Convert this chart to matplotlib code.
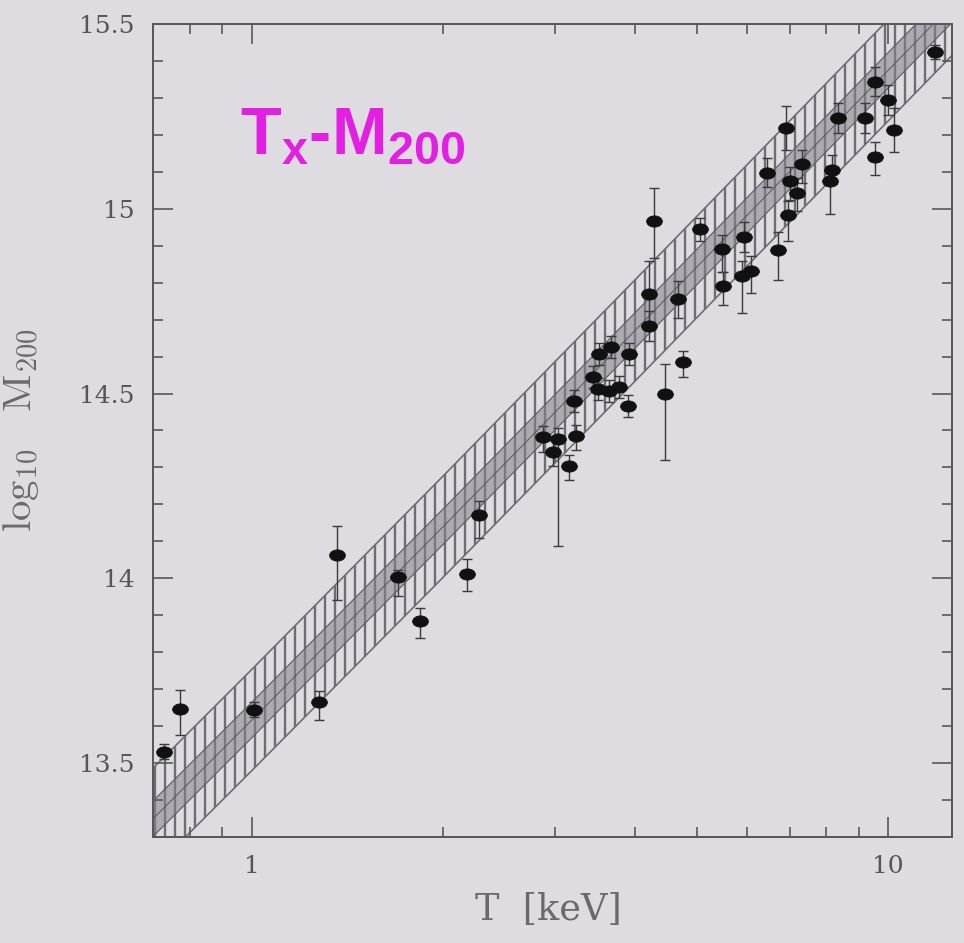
import matplotlib
matplotlib.use('Agg')
import matplotlib.pyplot as plt
import numpy as np
from matplotlib.markers import MarkerStyle
from matplotlib.transforms import Affine2D
from matplotlib.ticker import FixedLocator, LogLocator, MultipleLocator, NullFormatter

# cluster temperatures [keV] and log10 M200, with lower/upper errors in dex
temp_kev = [0.728, 0.771, 1.007, 1.274, 1.364, 1.70, 1.84, 2.18, 2.28,
            2.87, 3.03, 3.23, 2.97, 3.15, 3.21, 3.44, 3.50, 3.64, 3.78,
            3.51, 3.67, 3.91, 3.90, 4.21, 4.21, 4.28, 4.46, 4.67, 4.76,
            5.07, 5.49, 5.51, 5.93, 5.90, 6.10, 6.72, 6.46, 6.90, 7.33,
            7.02, 7.20, 6.97, 8.17, 8.11, 8.35, 9.20, 9.54, 10.0, 10.2,
            9.54, 11.85]
log_m200 = [13.531, 13.647, 13.644, 13.666, 14.062, 14.003, 13.884, 14.011, 14.170,
            14.383, 14.378, 14.386, 14.343, 14.305, 14.480, 14.545, 14.513, 14.507, 14.518,
            14.607, 14.626, 14.607, 14.467, 14.683, 14.769, 14.966, 14.499, 14.755, 14.586,
            14.944, 14.890, 14.790, 14.923, 14.818, 14.831, 14.888, 15.098, 15.219, 15.120,
            15.074, 15.044, 14.982, 15.106, 15.076, 15.246, 15.246, 15.344, 15.295, 15.214,
            15.141, 15.424]
err_lo = [0.02, 0.07, 0.02, 0.05, 0.12, 0.05, 0.045, 0.045, 0.06,
          0.04, 0.29, 0.04, 0.04, 0.04, 0.03, 0.03, 0.03, 0.03, 0.03,
          0.03, 0.03, 0.03, 0.03, 0.04, 0.08, 0.10, 0.18, 0.05, 0.04,
          0.03, 0.06, 0.05, 0.04, 0.10, 0.06, 0.08, 0.04, 0.06, 0.05,
          0.05, 0.05, 0.07, 0.04, 0.09, 0.04, 0.04, 0.04, 0.04, 0.06,
          0.05, 0.02]
err_hi = [0.02, 0.05, 0.02, 0.03, 0.08, 0.02, 0.035, 0.04, 0.04,
          0.03, 0.03, 0.03, 0.03, 0.03, 0.03, 0.03, 0.03, 0.03, 0.03,
          0.03, 0.03, 0.03, 0.03, 0.04, 0.09, 0.09, 0.08, 0.05, 0.03,
          0.03, 0.04, 0.04, 0.04, 0.04, 0.04, 0.05, 0.04, 0.06, 0.04,
          0.04, 0.04, 0.04, 0.04, 0.04, 0.04, 0.04, 0.04, 0.04, 0.06,
          0.04, 0.02]

# predicted relation: centre line sampled in T, half widths of the two bands (dex)
band_temp = [0.65, 1.0, 2.0, 4.0, 8.0, 14.0]
band_centre = [13.294, 13.616, 14.140, 14.670, 15.203, 15.633]
outer_half = 0.137
inner_half = 0.048

x_ticks = [1, 10]
x_ticklabels = ['1', '10']
y_ticks = [13.5, 14, 14.5, 15, 15.5]
y_ticklabels = ['13.5', '14', '14.5', '15', '15.5']

DPI = 60
BG = '#dedce1'
INK = '#58575c'
BAND = '#6e6d73'

plt.rcParams['hatch.linewidth'] = 2.8
plt.rcParams['mathtext.fontset'] = 'custom'
plt.rcParams['mathtext.bf'] = 'Liberation Sans:bold'
plt.rcParams['mathtext.rm'] = 'Liberation Sans:bold'
plt.rcParams['mathtext.it'] = 'Liberation Sans:bold'

fig = plt.figure(figsize=(965 / DPI, 943 / DPI), dpi=DPI, facecolor=BG)
ax = fig.add_axes([153 / 965, 1 - 837 / 943, 799 / 965, 813 / 943], facecolor=BG)
ax.set_xscale('log')

centre = np.array(band_centre)
ax.fill_between(band_temp, centre - outer_half, centre + outer_half,
                facecolor='none', edgecolor=BAND, hatch='|', linewidth=2.0, zorder=1)
ax.fill_between(band_temp, centre - inner_half, centre + inner_half,
                facecolor='#85838a', alpha=0.55, edgecolor='none', zorder=1.5)
ax.plot(band_temp, centre - inner_half, color='#5f5e64', lw=1.4, zorder=1.7)
ax.plot(band_temp, centre + inner_half, color='#5f5e64', lw=1.4, zorder=1.7)
ax.plot(band_temp, centre, color='#5a595e', lw=1.2, zorder=1.7)

ax.errorbar(temp_kev, log_m200, yerr=[err_lo, err_hi], fmt='none',
            ecolor='#3c3b40', elinewidth=1.7, capsize=6, capthick=1.7, zorder=3)
oval = MarkerStyle('o', transform=Affine2D().scale(1.4, 1.0))
ax.plot(temp_kev, log_m200, ls='none', marker=oval, ms=13.5, color='#111111', zorder=4)

ax.set_xlim(0.7, 12.6)
ax.set_ylim(13.3, 15.5)

ax.xaxis.set_major_locator(FixedLocator(x_ticks))
ax.set_xticklabels(x_ticklabels)
ax.xaxis.set_minor_locator(LogLocator(base=10, subs=np.arange(2, 10)))
ax.xaxis.set_minor_formatter(NullFormatter())
ax.yaxis.set_major_locator(FixedLocator(y_ticks))
ax.set_yticklabels(y_ticklabels)
ax.yaxis.set_minor_locator(MultipleLocator(0.1))

ax.tick_params(which='both', direction='in', top=True, right=True,
               color=INK, width=2.0, labelcolor='#56555a', labelsize=30)
ax.tick_params(which='major', length=24, pad=22)
ax.tick_params(which='minor', length=12)
for lab in ax.get_xticklabels() + ax.get_yticklabels():
    lab.set_family('DejaVu Serif')

for sp in ax.spines.values():
    sp.set_color(INK)
    sp.set_linewidth(2.4)

ax.set_xlabel('T  [keV]', fontsize=44, color='#6a696e', family='DejaVu Serif')
ax.set_ylabel(r'$\mathrm{log}_{10}\ \ \ \mathrm{M}_{200}$', fontsize=49, color='#6a696e',
              math_fontfamily='cm')
ax.xaxis.set_label_coords(0.495, -0.068)
ax.yaxis.set_label_coords(-0.140, 0.5)

ax.text(0.109, 0.841, r'$\mathbf{T_x}$-$\mathbf{M_{200}}$', transform=ax.transAxes,
        fontsize=80, color='#e21fe2', family='Liberation Sans', weight='bold',
        ha='left', va='baseline', math_fontfamily='custom')

fig.savefig('out.png', dpi=DPI, facecolor=BG)
